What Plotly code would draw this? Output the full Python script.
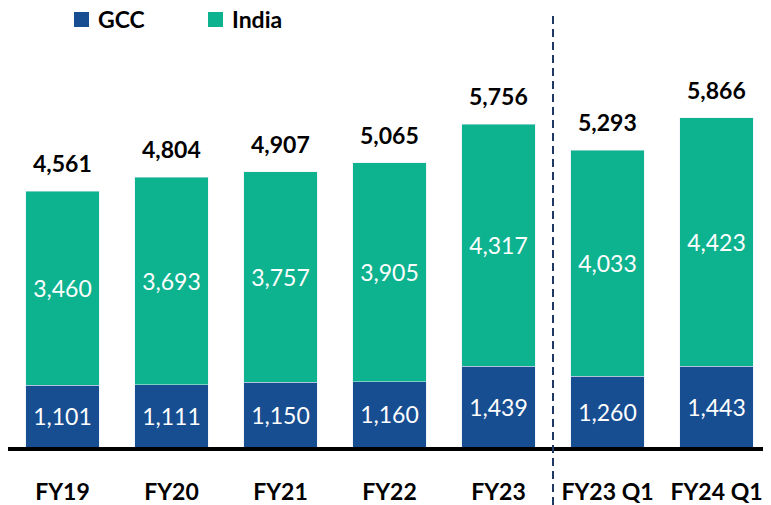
import plotly.graph_objects as go

categories = ['FY19', 'FY20', 'FY21', 'FY22', 'FY23', 'FY23 Q1', 'FY24 Q1']
gcc = [1101, 1111, 1150, 1160, 1439, 1260, 1443]
india = [3460, 3693, 3757, 3905, 4317, 4033, 4423]
totals = [4561, 4804, 4907, 5065, 5756, 5293, 5866]

GCC_COLOR = '#174D91'
INDIA_COLOR = '#0DB28F'
FONT = 'Lato'

fig = go.Figure()

fig.add_trace(go.Bar(
    x=categories, y=gcc, name='GCC', marker=dict(color=GCC_COLOR),
    texttemplate='%{y:,}', textposition='inside', insidetextanchor='middle',
    textfont=dict(family=FONT, size=23, color='white'), showlegend=False,
))
fig.add_trace(go.Bar(
    x=categories, y=india, name='India', marker=dict(color=INDIA_COLOR),
    texttemplate='%{y:,}', textposition='inside', insidetextanchor='middle',
    textfont=dict(family=FONT, size=23, color='white'), showlegend=False,
))

# totals on top of each bar
for cat, tot in zip(categories, totals):
    fig.add_annotation(
        x=cat, y=tot, text=f'{tot:,}', showarrow=False,
        yanchor='middle', yshift=28,
        font=dict(family=FONT, size=23, color='black', weight='bold'),
    )

# hand-made legend at the top left (plotly's legend would push the plot down)
legend_items = [('GCC', GCC_COLOR), ('India', INDIA_COLOR)]
for i, (name, color) in enumerate(legend_items):
    x0 = 0.0865 + i * 0.1756
    fig.add_shape(
        type='rect', xref='paper', yref='paper',
        x0=x0, x1=x0 + 0.0197, y0=0.9567, y1=0.9909,
        fillcolor=color, line=dict(width=0),
    )
    fig.add_annotation(
        xref='paper', yref='paper', x=x0 + 0.029, y=0.974,
        xanchor='left', yanchor='middle', text=name, showarrow=False,
        height=22, valign='middle',
        font=dict(family=FONT, size=23, color='black', weight='bold'),
    )

# separator between yearly and quarterly figures
fig.add_shape(
    type='line', xref='x', yref='paper', x0=4.5, x1=4.5, y0=-0.132, y1=0.99,
    line=dict(color='#1F3864', width=2, dash='8px,5px'),
)

# page body has an 8px margin, so the figure is 8px smaller than the window
fig.update_layout(
    width=763, height=497,
    margin=dict(l=0, r=0, t=0, b=58),
    barmode='stack', bargap=0.33,
    plot_bgcolor='white', paper_bgcolor='white',
    font=dict(family=FONT),
    showlegend=False,
    xaxis=dict(
        showline=True, linecolor='black', linewidth=4, ticks='',
        ticklabelstandoff=21, automargin=False,
        tickfont=dict(family=FONT, size=23, color='black', weight='bold'),
        showgrid=False,
    ),
    yaxis=dict(range=[0, 7825], visible=False, showgrid=False, automargin=False),
)

fig.write_html('out.html')
